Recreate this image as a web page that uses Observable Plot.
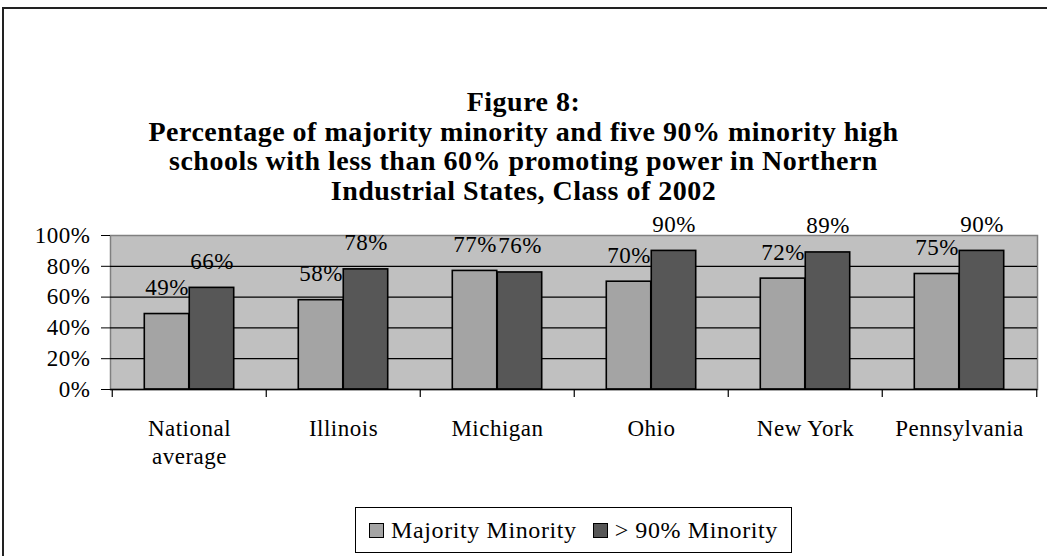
<!DOCTYPE html>
<html>
<head>
<meta charset="utf-8">
<script src="https://cdn.jsdelivr.net/npm/d3@7"></script>
<script src="https://cdn.jsdelivr.net/npm/@observablehq/plot@0.6"></script>
<style>
  html, body { margin: 0; padding: 0; background: #fff; }
  body { width: 1047px; height: 556px; position: relative; overflow: hidden; font-family: "Liberation Serif", "Times New Roman", serif; }
  #frame { position: absolute; left: 2px; top: 7px; width: 1100px; height: 600px; border: 2px solid #222; box-sizing: border-box; }
  #title { position: absolute; left: 0; top: 87px; width: 1047px; text-align: center; font-weight: bold; font-size: 28px; line-height: 29.7px; letter-spacing: 0.5px; color: #000; }
  #chart { position: absolute; left: 0; top: 200px; }
  #legend { position: absolute; left: 355px; top: 507px; width: 437px; height: 46px; border: 1px solid #000; box-sizing: border-box; display: flex; align-items: center; justify-content: center; font-size: 24px; letter-spacing: 0.6px; color: #000; }
  .sw { display: inline-block; width: 13px; height: 13px; border: 1.5px solid #000; margin-right: 7px; }
  .item { display: flex; align-items: center; margin: 0 8px; }
</style>
</head>
<body>
<div id="frame"></div>
<div id="title">Figure 8:<br>Percentage of majority minority and five 90% minority high<br>schools with less than 60% promoting power in Northern<br>Industrial States, Class of 2002</div>
<div id="chart"></div>
<div id="legend"></div>
<script>
const categories = ["National average", "Illinois", "Michigan", "Ohio", "New York", "Pennsylvania"];
const seriesNames = ["Majority Minority", "> 90% Minority"];
const majorityMinority = [0.49, 0.58, 0.77, 0.70, 0.72, 0.75];
const ninetyMinority = [0.66, 0.78, 0.76, 0.90, 0.89, 0.90];
const yTicks = [0, 0.2, 0.4, 0.6, 0.8, 1.0];
const colors = ["#a4a4a4", "#575757"];

const data = categories.flatMap((c, i) => [
  {category: c, series: seriesNames[0], value: majorityMinority[i]},
  {category: c, series: seriesNames[1], value: ninetyMinority[i]}
]);

const W = 1047, ML = 110, MR = 10;
const bw = (W - ML - MR) / categories.length;
const barW = 0.291 * bw;
const outer = (bw - 2 * barW) / 2;

const light = data.filter(d => d.series === seriesNames[0]);
const dark = data.filter(d => d.series === seriesNames[1]);
const FS = 23;

const chart = Plot.plot({
  width: W,
  height: 290,
  marginLeft: ML,
  marginRight: MR,
  marginTop: 35,
  marginBottom: 101,
  style: {fontFamily: "'Liberation Serif', 'Times New Roman', serif", fontSize: FS + "px", letterSpacing: "0.5px", color: "#000", background: "transparent"},
  x: {type: "band", domain: categories, padding: 0},
  y: {domain: [0, 1]},
  marks: [
    Plot.frame({fill: "#c0c0c0", stroke: "#808080", strokeWidth: 1.5}),
    Plot.ruleY(yTicks.filter(t => t > 0 && t < 1), {stroke: "#000", strokeWidth: 1.2}),
    Plot.barY(light, {x: "category", y: "value", fill: colors[0], stroke: "#000", strokeWidth: 1.6, insetLeft: outer, insetRight: bw - outer - barW}),
    Plot.barY(dark, {x: "category", y: "value", fill: colors[1], stroke: "#000", strokeWidth: 1.6, insetLeft: outer + barW, insetRight: outer}),
    Plot.text(light, {x: "category", y: "value", text: d => d3.format(".0%")(d.value), dx: -barW / 2, dy: -19, lineAnchor: "bottom", fontSize: FS, fill: "#000"}),
    Plot.text(dark, {x: "category", y: "value", text: d => d3.format(".0%")(d.value), dx: barW / 2, dy: -19, lineAnchor: "bottom", fontSize: FS, fill: "#000"}),
    Plot.ruleY([0], {stroke: "#000", strokeWidth: 1.5}),
    Plot.ruleX(categories, {x: d => d, dx: -bw / 2, y1: () => 0, y2: () => -0.052, stroke: "#000", strokeWidth: 1.2}),
    Plot.ruleX([categories[categories.length - 1]], {x: d => d, dx: bw / 2, y1: () => 0, y2: () => -0.052, stroke: "#000", strokeWidth: 1.2}),
    Plot.axisY({ticks: yTicks, tickFormat: d3.format(".0%"), tickSize: 9, tickPadding: 11, stroke: "#000", fontSize: FS, label: null}),
    Plot.axisX({tickSize: 0, tickPadding: 27, tickFormat: d => d.replace(" average", "\naverage"), lineHeight: 1.2, fontSize: FS, label: null})
  ]
});
document.getElementById("chart").appendChild(chart);

const legend = document.getElementById("legend");
seriesNames.forEach((s, i) => {
  const item = document.createElement("span");
  item.className = "item";
  const sw = document.createElement("span");
  sw.className = "sw";
  sw.style.background = colors[i];
  item.appendChild(sw);
  item.appendChild(document.createTextNode(s));
  legend.appendChild(item);
});
</script>
</body>
</html>
